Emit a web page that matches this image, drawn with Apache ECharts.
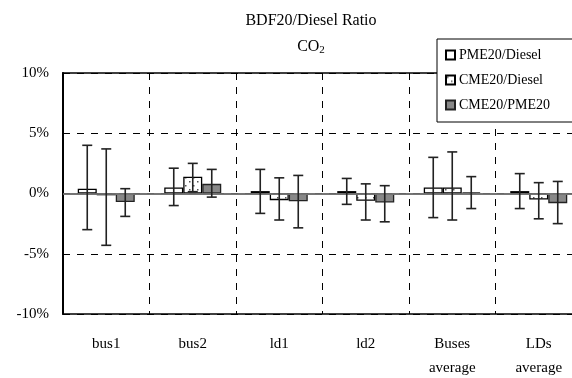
<!DOCTYPE html>
<html>
<head>
<meta charset="utf-8">
<script src="https://cdn.jsdelivr.net/npm/echarts@6/dist/echarts.min.js"></script>
<style>
  html, body { margin: 0; padding: 0; background: #fff; }
  #chart { width: 572px; height: 378px; }
</style>
</head>
<body>
<div id="chart"></div>
<script>
const categories = ['bus1', 'bus2', 'ld1', 'ld2', 'Buses\naverage', 'LDs\naverage'];
const seriesNames = ['PME20/Diesel', 'CME20/Diesel', 'CME20/PME20'];

// ratio minus 1, in %
const pmeValues = [0.4, 0.5, 0.2, 0.2, 0.5, 0.2];
const pmeLow = [-3.0, -1.0, -1.65, -0.9, -2.0, -1.25];
const pmeHigh = [4.0, 2.1, 2.0, 1.25, 3.0, 1.65];

const cmeValues = [-0.15, 1.4, -0.55, -0.6, 0.5, -0.5];
const cmeLow = [-4.3, 0.15, -2.2, -2.2, -2.2, -2.1];
const cmeHigh = [3.7, 2.5, 1.3, 0.8, 3.45, 0.9];

const ratioValues = [-0.7, 0.8, -0.65, -0.75, 0.1, -0.8];
const ratioLow = [-1.9, -0.3, -2.85, -2.35, -1.25, -2.5];
const ratioHigh = [0.4, 2.0, 1.5, 0.65, 1.4, 1.0];

const FONT = '"Liberation Serif", "DejaVu Serif", serif';
const BAR_W = 19;

// dotted fill for the CME20/Diesel bars
const dots = document.createElement('canvas');
dots.width = 8;
dots.height = 8;
const dctx = dots.getContext('2d');
dctx.fillStyle = '#fff';
dctx.fillRect(0, 0, 8, 8);
dctx.fillStyle = '#555';
dctx.fillRect(1, 1, 1.5, 1.5);
dctx.fillRect(5, 5, 1.5, 1.5);
const dotFill = { image: dots, repeat: 'repeat' };

const chart = echarts.init(document.getElementById('chart'));

function errorSeries(low, high, offset) {
  return {
    type: 'custom',
    z: 5,
    silent: true,
    data: categories.map((_, i) => [i, low[i], high[i]]),
    renderItem: (params, api) => {
      const top = api.coord([api.value(0), api.value(2)]);
      const bot = api.coord([api.value(0), api.value(1)]);
      const x = top[0] + offset;
      const cap = 5;
      const style = { stroke: '#222', lineWidth: 1.6 };
      return {
        type: 'group',
        children: [
          { type: 'line', shape: { x1: x, y1: top[1], x2: x, y2: bot[1] }, style },
          { type: 'line', shape: { x1: x - cap, y1: top[1], x2: x + cap, y2: top[1] }, style },
          { type: 'line', shape: { x1: x - cap, y1: bot[1], x2: x + cap, y2: bot[1] }, style }
        ]
      };
    }
  };
}

const option = {
  animation: false,
  backgroundColor: '#fff',
  title: [
    {
      text: 'BDF20/Diesel Ratio',
      left: 306,
      top: 8,
      textAlign: 'center',
      textStyle: { fontFamily: FONT, fontSize: 16, fontWeight: 'normal', color: '#000' }
    },
    {
      text: '{a|CO}{b|2}',
      left: 306,
      top: 32,
      textAlign: 'center',
      textStyle: {
        fontWeight: 'normal',
        rich: {
          a: { fontFamily: FONT, fontSize: 16, fontWeight: 'normal', color: '#000' },
          b: { fontFamily: FONT, fontSize: 11, fontWeight: 'normal', color: '#000', padding: [8, 0, 0, 0] }
        }
      }
    }
  ],
  legend: {
    orient: 'vertical',
    left: 437,
    top: 39,
    padding: [9, 40, 10, 8],
    backgroundColor: '#fff',
    borderColor: '#000',
    borderWidth: 1,
    icon: 'rect',
    itemWidth: 9,
    itemHeight: 9,
    itemGap: 11,
    z: 10,
    data: seriesNames,
    textStyle: { fontFamily: FONT, fontSize: 14, color: '#000', padding: [0, 0, 0, -1] }
  },
  grid: {
    left: 63,
    width: 519,
    top: 73,
    bottom: 64,
    outerBoundsMode: 'none',
    containLabel: false,
    show: true,
    borderColor: '#000',
    borderWidth: 1.5
  },
  xAxis: {
    type: 'category',
    data: categories,
    axisTick: { show: false },
    axisLine: { show: true, lineStyle: { color: '#000', width: 1.5 } },
    axisLabel: {
      fontFamily: FONT,
      fontSize: 15,
      color: '#000',
      margin: 18,
      lineHeight: 24
    },
    splitLine: { show: true, lineStyle: { color: '#000', type: [7, 7], width: 1 } }
  },
  yAxis: {
    type: 'value',
    min: -10,
    max: 10,
    interval: 5,
    axisLine: { show: true, lineStyle: { color: '#000', width: 2 } },
    axisTick: { show: false },
    axisLabel: {
      fontFamily: FONT,
      fontSize: 15,
      color: '#000',
      margin: 14,
      formatter: '{value}%'
    },
    splitLine: { show: true, lineStyle: { color: '#000', type: [7, 7], width: 1 } }
  },
  series: [
    {
      name: seriesNames[0],
      type: 'bar',
      barWidth: BAR_W,
      barGap: '0%',
      data: pmeValues,
      itemStyle: { color: '#fff', borderColor: '#000', borderWidth: 1.3 },
      markLine: {
        silent: true,
        symbol: 'none',
        label: { show: false },
        lineStyle: { color: '#888', type: 'solid', width: 1.5 },
        data: [{ yAxis: 0 }]
      }
    },
    {
      name: seriesNames[1],
      type: 'bar',
      barWidth: BAR_W,
      barGap: '0%',
      data: cmeValues,
      itemStyle: { color: dotFill, borderColor: '#000', borderWidth: 1.3 }
    },
    {
      name: seriesNames[2],
      type: 'bar',
      barWidth: BAR_W,
      barGap: '0%',
      data: ratioValues,
      itemStyle: { color: '#888', borderColor: '#222', borderWidth: 1.3 }
    },
    errorSeries(pmeLow, pmeHigh, -BAR_W),
    errorSeries(cmeLow, cmeHigh, 0),
    errorSeries(ratioLow, ratioHigh, BAR_W)
  ]
};

chart.setOption(option);
</script>
</body>
</html>
